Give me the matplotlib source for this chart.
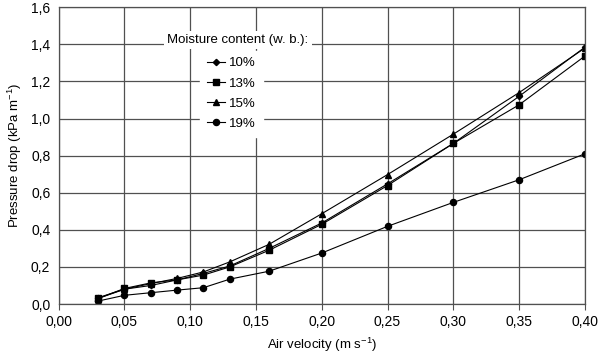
import matplotlib
matplotlib.use("Agg")
import matplotlib.pyplot as plt
from matplotlib.ticker import FuncFormatter

plt.rcParams['font.family'] = ['Liberation Sans', 'DejaVu Sans']
plt.rcParams['mathtext.fontset'] = 'custom'
plt.rcParams['mathtext.rm'] = 'Liberation Sans'
plt.rcParams['mathtext.it'] = 'Liberation Sans'
plt.rcParams['mathtext.default'] = 'regular'

velocity = [0.03, 0.05, 0.07, 0.09, 0.11, 0.13, 0.16, 0.20, 0.25, 0.30, 0.35, 0.40]
mc10 = [0.03, 0.08, 0.10, 0.13, 0.165, 0.205, 0.30, 0.437, 0.648, 0.866, 1.12, 1.385]
mc13 = [0.03, 0.084, 0.114, 0.13, 0.156, 0.20, 0.29, 0.43, 0.639, 0.866, 1.074, 1.337]
mc15 = [0.034, 0.08, 0.11, 0.138, 0.173, 0.227, 0.322, 0.487, 0.698, 0.916, 1.14, 1.38]
mc19 = [0.016, 0.047, 0.061, 0.075, 0.088, 0.134, 0.177, 0.275, 0.419, 0.548, 0.67, 0.81]
series_labels = ['10%', '13%', '15%', '19%']
legend_title = 'Moisture content (w. b.):'
xticks = [0.00, 0.05, 0.10, 0.15, 0.20, 0.25, 0.30, 0.35, 0.40]
yticks = [0.0, 0.2, 0.4, 0.6, 0.8, 1.0, 1.2, 1.4, 1.6]

fig = plt.figure(figsize=(6, 3.56), dpi=100)
ax = fig.add_axes([0.0978, 0.146, 0.877, 0.8335])

markers = ['D', 's', '^', 'o']
msizes = [3.2, 4.2, 4.6, 4.4]
for ys, lab, m, ms in zip([mc10, mc13, mc15, mc19], series_labels, markers, msizes):
    ax.plot(velocity, ys, color='black', lw=0.8, marker=m, ms=ms, label=lab,
            markerfacecolor='black', markeredgecolor='black')

ax.set_xlim(0, 0.40)
ax.set_ylim(0, 1.6)
ax.set_xticks(xticks)
ax.set_yticks(yticks)
ax.xaxis.set_major_formatter(FuncFormatter(lambda v, p: f"{v:.2f}".replace('.', ',')))
ax.yaxis.set_major_formatter(FuncFormatter(lambda v, p: f"{v:.1f}".replace('.', ',')))
ax.grid(True, color='#505050', lw=0.9)
ax.set_axisbelow(True)
for s in ax.spines.values():
    s.set_color('#505050')
    s.set_linewidth(0.9)
ax.tick_params(axis='x', direction='out', length=4, color='#505050', labelsize=10, pad=4)
ax.tick_params(axis='y', length=0, labelsize=10, pad=6)

ax.set_xlabel('Air velocity (m s$^{-1}$)', fontsize=9.5, labelpad=5)
ax.set_ylabel('Pressure drop (kPa m$^{-1}$)', fontsize=9.5, labelpad=5)

ax.text(0.206, 0.89, legend_title, transform=ax.transAxes, fontsize=9.5,
        ha='left', va='center', zorder=5,
        bbox=dict(facecolor='white', edgecolor='none', pad=2.5))

leg = ax.legend(loc='upper left', bbox_to_anchor=(0.269, 0.854), frameon=True,
                fontsize=9.5, handlelength=1.4, handletextpad=0.3,
                labelspacing=0.6, borderpad=0.5, borderaxespad=0, fancybox=False)
leg.get_frame().set_edgecolor('white')
leg.get_frame().set_facecolor('white')
leg.get_frame().set_alpha(1)

fig.savefig('out.png', dpi=100)
